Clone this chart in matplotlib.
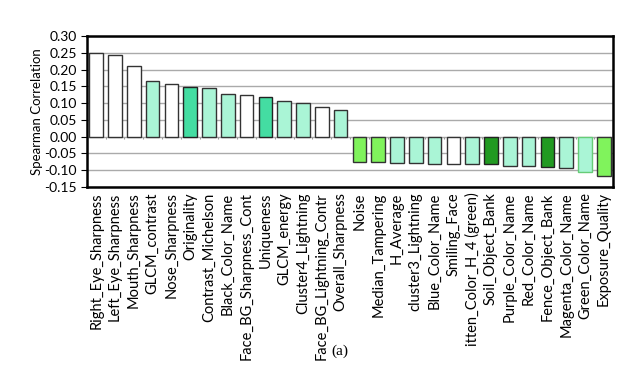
import matplotlib
matplotlib.use("Agg")
import matplotlib.pyplot as plt
import numpy as np

plt.rcParams['font.family'] = ['Lato', 'DejaVu Sans']

features = [
    "Right_Eye_Sharpness", "Left_Eye_Sharpness", "Mouth_Sharpness", "GLCM_contrast",
    "Nose_Sharpness", "Originality", "Contrast_Michelson", "Black_Color_Name",
    "Face_BG_Sharpness_Cont", "Uniqueness", "GLCM_energy", "Cluster4_Lightning",
    "Face_BG_Lightning_Contr", "Overall_Sharpness", "Noise", "Median_Tampering",
    "H_Average", "cluster3_Lightning", "Blue_Color_Name", "Smiling_Face",
    "itten_Color_H_4 (green)", "Soil_Object_Bank", "Purple_Color_Name", "Red_Color_Name",
    "Fence_Object_Bank", "Magenta_Color_Name", "Green_Color_Name", "Exposure_Quality",
]
correlation = [
    0.250, 0.243, 0.212, 0.166, 0.157, 0.147, 0.145, 0.128, 0.123, 0.119, 0.107, 0.099,
    0.088, 0.080, -0.077, -0.077, -0.079, -0.080, -0.082, -0.082, -0.082, -0.083,
    -0.087, -0.087, -0.092, -0.094, -0.105, -0.117,
]
# colour group of each bar
groups = [
    "w", "w", "w", "m", "w", "t", "m", "m", "w", "t", "m", "m",
    "w", "m", "g", "g", "m", "m", "m", "w", "m", "d", "m", "m",
    "d", "m", "m", "g",
]

fills = {"w": "#ffffff", "m": "#aaf5d6", "t": "#44dda2", "g": "#80f35c", "d": "#229a22"}
edges = {"w": "#333333", "m": "#333333", "t": "#222222", "g": "#333333", "d": "#222222"}

fig = plt.figure(figsize=(6.29, 3.65), dpi=100)
ax = fig.add_axes([0.138, 0.488, 0.837, 0.413])

x = np.arange(len(features))
bar_edges = [edges[g] for g in groups]
bar_edges[26] = "#66cc77"
ax.bar(x, correlation, width=0.72, color=[fills[g] for g in groups],
       edgecolor=bar_edges, linewidth=1.0, zorder=3)

ax.set_xlim(-0.5, len(features) - 0.5)
ax.set_ylim(-0.15, 0.30)
ax.set_yticks(np.arange(-0.15, 0.301, 0.05))
ax.set_yticklabels([f"{v:.2f}" for v in np.arange(-0.15, 0.301, 0.05)], fontsize=10)
ax.yaxis.grid(True, color="#aaaaaa", linewidth=1.0, zorder=0)
ax.set_axisbelow(True)

# small category separator ticks on the zero line
ax.vlines(x[:-1] + 0.5, -0.008, 0, color="#999999", linewidth=0.8, zorder=2)

ax.set_xticks(x)
ax.set_xticklabels(features, rotation=90, fontsize=10.5)
ax.tick_params(axis="x", length=0, pad=4)
ax.tick_params(axis="y", length=4, width=0.8, pad=3)
ax.set_ylabel("Spearman Correlation", fontsize=9.5, labelpad=1)

for s in ax.spines.values():
    s.set_linewidth(1.8)
    s.set_color("black")

fig.text(0.54, 0.028, "(a)", fontsize=11, family="Liberation Serif", ha="center")

fig.savefig("out.png", dpi=100)
